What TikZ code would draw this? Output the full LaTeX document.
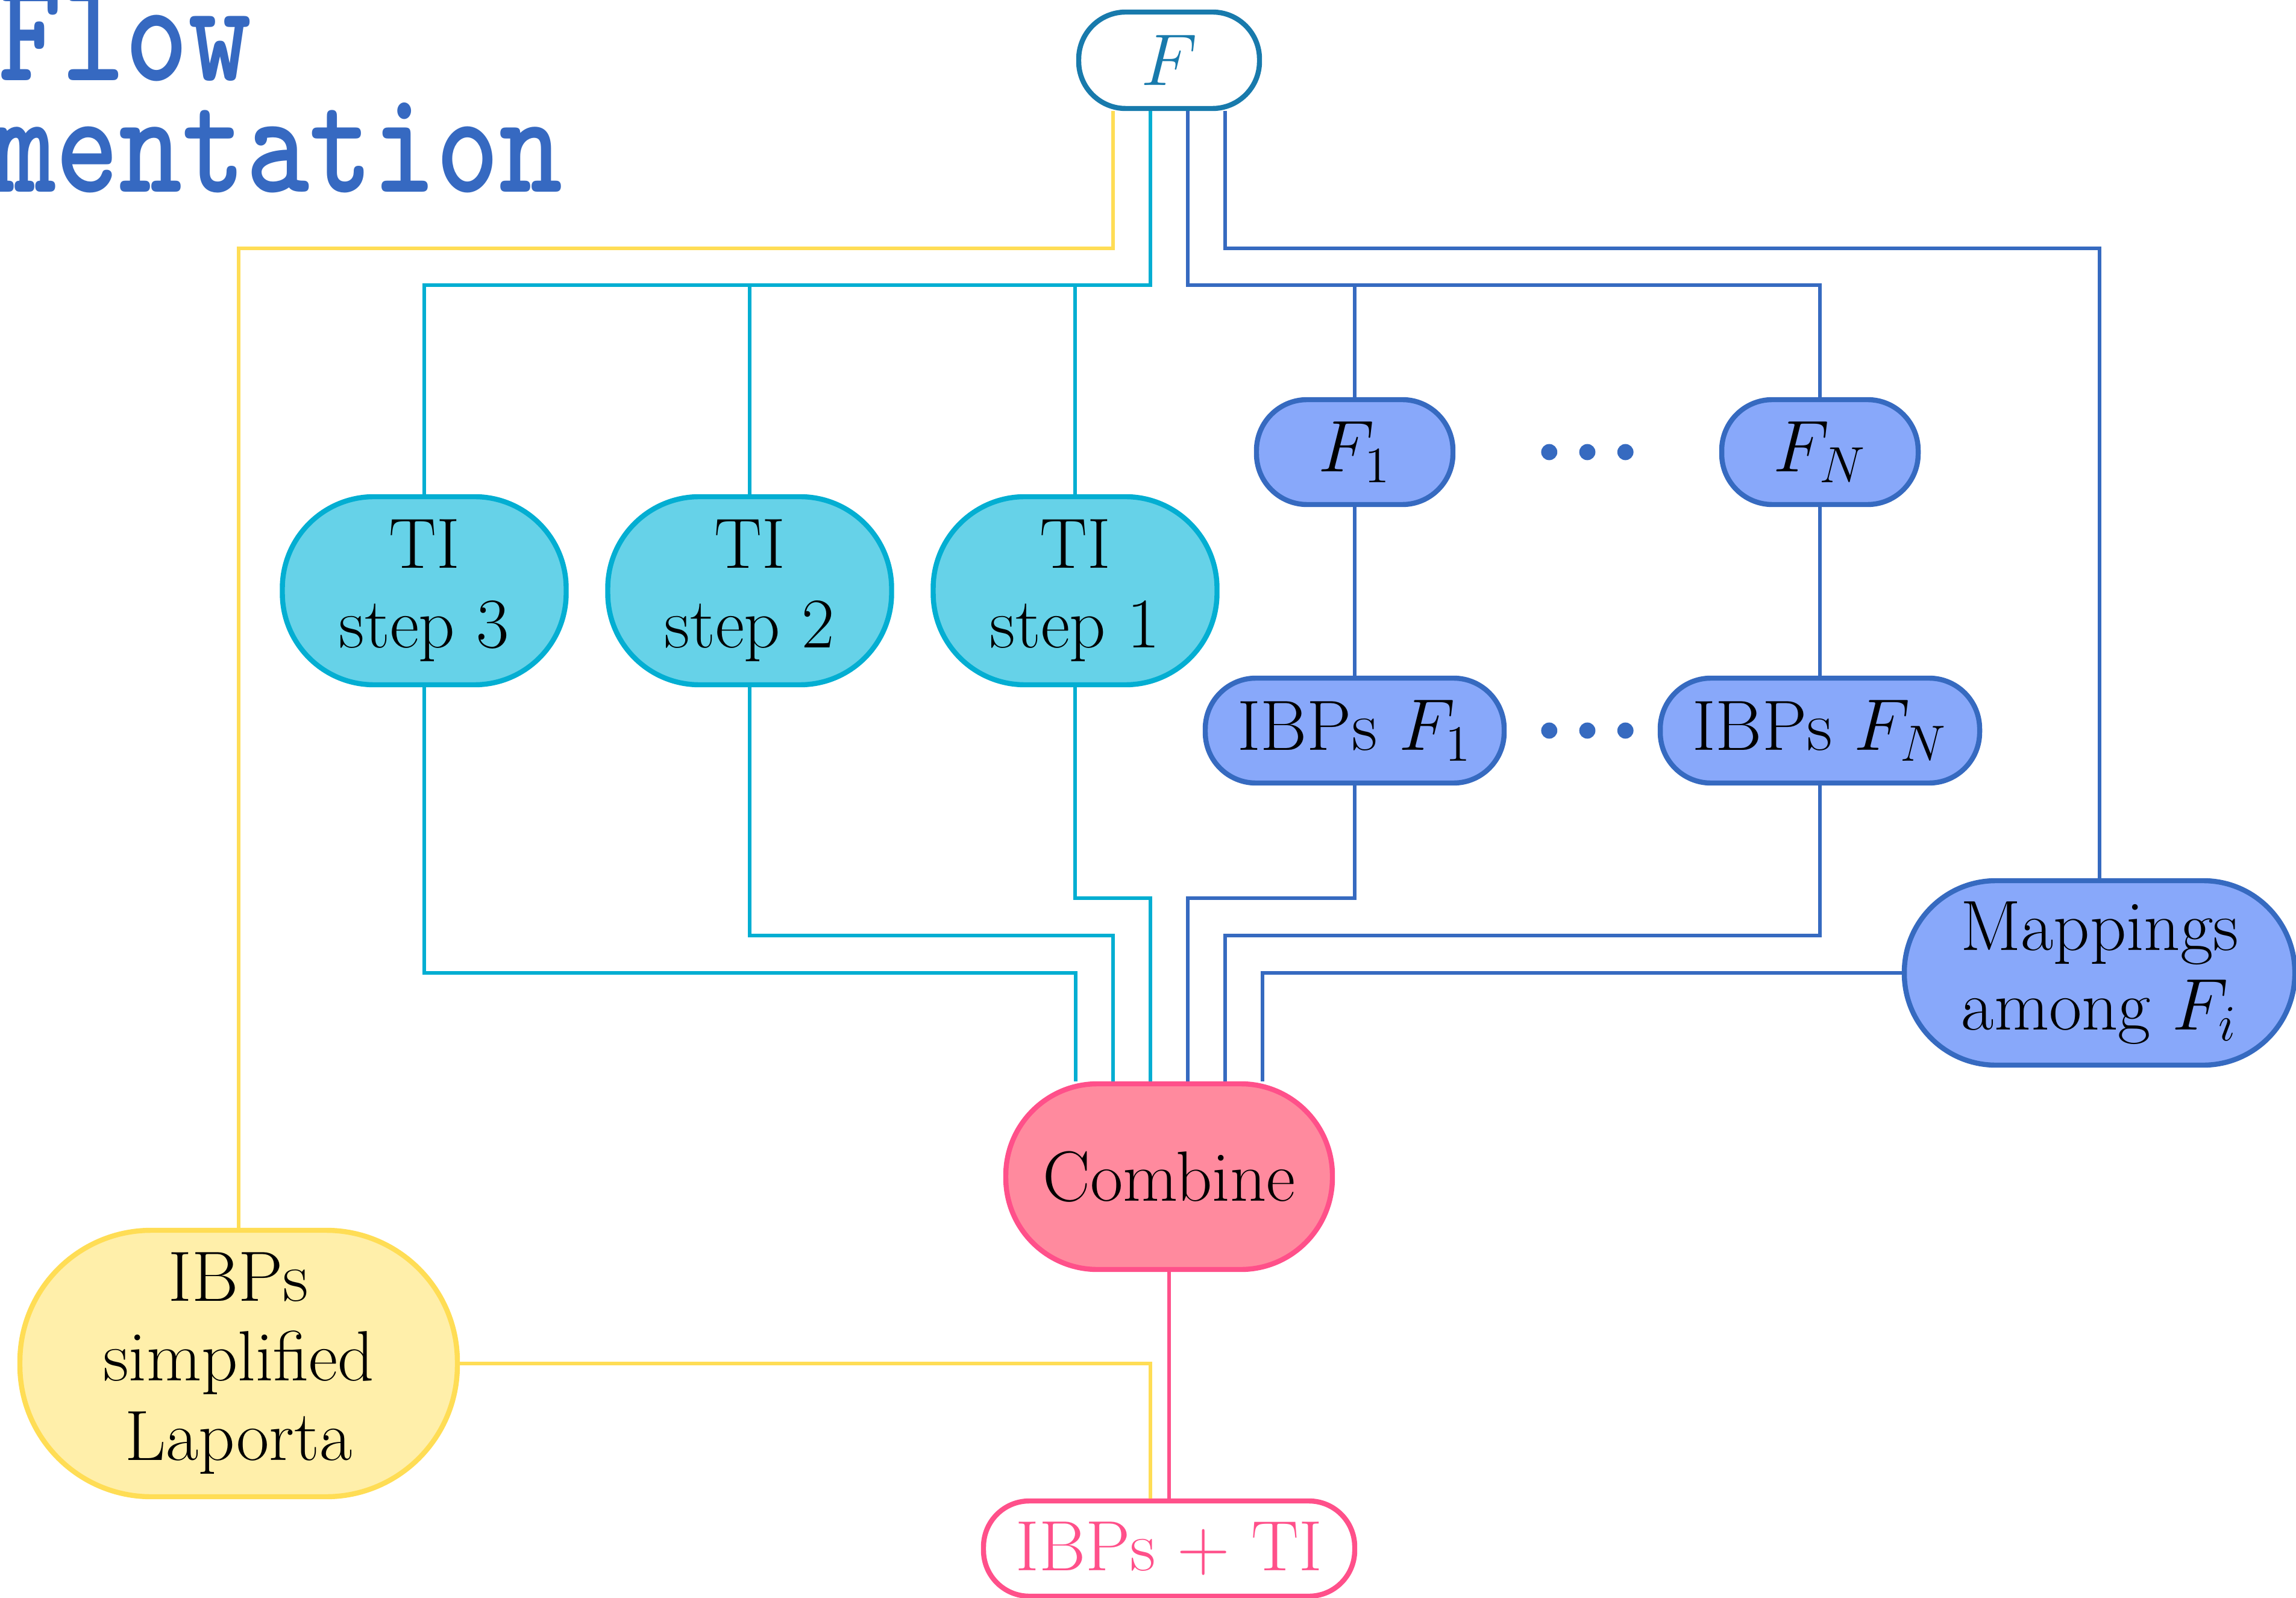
\documentclass[tikz,border=0pt]{standalone}
\usepackage{graphicx}
\usetikzlibrary{calc}

\definecolor{topblue}{RGB}{24,122,172}
\definecolor{cyline}{RGB}{3,174,210}
\definecolor{cyfill}{RGB}{102,210,232}
\definecolor{blline}{RGB}{54,106,192}
\definecolor{blfill}{RGB}{136,168,250}
\definecolor{pkline}{RGB}{255,80,138}
\definecolor{pkfill}{RGB}{255,138,158}
\definecolor{yeline}{RGB}{255,221,85}
\definecolor{yefill}{RGB}{255,239,170}
\definecolor{titleblue}{RGB}{54,105,193}

\tikzset{
  box/.style={draw, line width=1.2pt, align=center, inner sep=0pt,
    font=\fontsize{16.8}{18.8}\selectfont},
  smallbox/.style={box, minimum height=8.7mm, rounded corners=4.2mm},
  midbox/.style={box, minimum height=15.4mm, rounded corners=7.6mm},
  bigbox/.style={box, minimum height=22.1mm, rounded corners=10.9mm},
  cybox/.style={draw=cyline, fill=cyfill},
  blbox/.style={draw=blline, fill=blfill},
  pkbox/.style={draw=pkline, fill=pkfill},
  yebox/.style={draw=yeline, fill=yefill},
  wire/.style={line width=0.9pt},
  titletext/.style={anchor=base west, inner sep=0pt, text=titleblue,
    font=\fontsize{28.5}{30}\selectfont\ttfamily\bfseries}
}

\begin{document}
\begin{tikzpicture}
    % Canvas
    \useasboundingbox (0,0) rectangle (19.05,-13.255);
    \clip (0,0) rectangle (19.05,-13.255);

    % Title (cut at the page edge)
    \node[titletext] (title1) at (-0.02,-0.668) {\scalebox{1}[1.22]{Flow}};
    \node[titletext] (title2) at (-0.07,-1.592) {\scalebox{1}[1.22]{mentation}};

    % Input
    \node[smallbox, draw=topblue, fill=white, text=topblue, minimum width=15mm, minimum height=8mm, rounded corners=3.9mm] (F) at (9.70,-0.50) {$F$};

    % TI steps
    \node[midbox, cybox, minimum width=23.55mm, minimum height=15.6mm] (ti3) at (3.52,-4.90) {TI\\step 3};
    \node[midbox, cybox, minimum width=23.55mm, minimum height=15.6mm] (ti2) at (6.22,-4.90) {TI\\step 2};
    \node[midbox, cybox, minimum width=23.55mm, minimum height=15.6mm] (ti1) at (8.92,-4.90) {TI\\step 1};

    % Pieces and their IBPs
    \node[smallbox, blbox, minimum width=16.3mm] (f1) at (11.24,-3.75) {$F_1$};
    \node[smallbox, blbox, minimum width=16.3mm] (fn) at (15.10,-3.75) {$F_N$};
    \node[smallbox, blbox, minimum width=24.8mm] (ibp1) at (11.24,-6.06) {IBPs $F_1$};
    \node[smallbox, blbox, minimum width=26.5mm] (ibpn) at (15.10,-6.06) {IBPs $F_N$};
    \node[midbox, blbox, minimum width=32.4mm, minimum height=15.3mm] (map) at (17.42,-8.07) {Mappings\\among $F_i$};

    % Dots
    \foreach \i in {-1,0,1} {
      \fill[blline] ($(f1)!0.5!(fn)$) ++(\i*0.316,0) circle (0.067);
      \fill[blline] ($(ibp1)!0.5!(ibpn)$) ++(\i*0.316,0) circle (0.067);
    }

    % Combine, Laporta and result
    \node[midbox, pkbox, minimum width=27.1mm] (comb) at (9.70,-9.76) {Combine};
    \node[bigbox, yebox, minimum width=36.3mm] (lap) at (1.98,-11.31) {IBPs\\simplified\\Laporta};
    \node[smallbox, draw=pkline, fill=white, text=pkline, minimum width=30.8mm, minimum height=7.9mm, rounded corners=3.8mm] (res) at (9.70,-12.845) {IBPs $+$ TI};

    % Levels of the lower wires
    \coordinate (lvA) at ([yshift=6.2mm]map.west);
    \coordinate (lvB) at ([yshift=3.1mm]map.west);

    % Wires out of F
    \draw[wire, yeline] ([xshift=-4.65mm]F.south) -- ++(0,-1.14) -| (lap.north);
    \draw[wire, cyline] ([xshift=-1.55mm]F.south) -- ++(0,-1.445) coordinate (cyb) -| (ti3.north);
    \draw[wire, cyline] (ti2.north) -- (ti2.north |- cyb);
    \draw[wire, cyline] (ti1.north) -- (ti1.north |- cyb);
    \draw[wire, blline] ([xshift=1.55mm]F.south) -- ++(0,-1.445) coordinate (blb) -| (fn.north);
    \draw[wire, blline] (f1.north) -- (f1.north |- blb);
    \draw[wire, blline] ([xshift=4.65mm]F.south) -- ++(0,-1.14) -| (map.north);
    \draw[wire, blline] (f1) -- (ibp1);
    \draw[wire, blline] (fn) -- (ibpn);

    % Wires into Combine
    \draw[wire, cyline] (ti3.south) -- (ti3.south |- map.west) -| ([xshift=-7.75mm]comb.north);
    \draw[wire, cyline] (ti2.south) -- (ti2.south |- lvB) -| ([xshift=-4.65mm]comb.north);
    \draw[wire, cyline] (ti1.south) -- (ti1.south |- lvA) -| ([xshift=-1.55mm]comb.north);
    \draw[wire, blline] (ibp1.south) -- (ibp1.south |- lvA) -| ([xshift=1.55mm]comb.north);
    \draw[wire, blline] (ibpn.south) -- (ibpn.south |- lvB) -| ([xshift=4.65mm]comb.north);
    \draw[wire, blline] (map.west) -| ([xshift=7.75mm]comb.north);

    % Wires into the result
    \draw[wire, yeline] (lap.east) -| ([xshift=-1.55mm]res.north);
    \draw[wire, pkline] (comb.south) -- (res.north);
\end{tikzpicture}
\end{document}
